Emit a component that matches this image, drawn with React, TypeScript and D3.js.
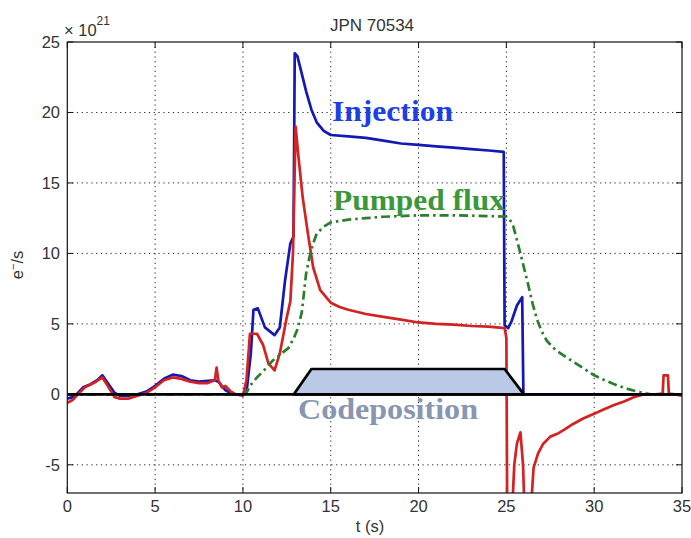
import React from "react";
import * as d3 from "d3";

const W = 691;
const H = 538;

const title = "JPN 70534";
const xLabel = "t (s)";
const xTicks = [0, 5, 10, 15, 20, 25, 30, 35];
const yTicks = [-5, 0, 5, 10, 15, 20, 25];

// Injection (blue)
const injT = [0, 0.3, 0.6, 0.9, 1.3, 1.7, 2.0, 2.3, 2.7, 3.0, 3.5, 4.0, 4.5, 5.0, 5.5, 6.0, 6.5, 7.0, 7.5, 8.0, 8.4, 8.6, 9.0, 9.4, 10.0, 10.2, 10.45, 10.6, 10.85, 11.25, 11.8, 12.1, 12.4, 12.7, 12.88, 12.95, 13.1, 13.3, 13.6, 13.9, 14.2, 14.6, 15.0, 16.0, 17.0, 18.0, 19.0, 20.0, 21.0, 22.0, 23.0, 24.0, 24.85, 24.9, 25.1, 25.3, 25.6, 25.9, 25.97, 26.0, 35];
const injV = [-0.3, -0.2, 0.1, 0.5, 0.7, 1.0, 1.35, 0.8, 0.1, -0.1, -0.1, 0.0, 0.2, 0.6, 1.1, 1.4, 1.3, 1.0, 0.9, 0.95, 1.0, 0.9, 0.3, 0.0, 0.0, 0.1, 2.9, 6.0, 6.1, 4.75, 4.2, 4.75, 8.1, 10.7, 11.2, 24.2, 24.0, 23.0, 21.5, 20.2, 19.3, 18.7, 18.4, 18.3, 18.2, 18.0, 17.8, 17.7, 17.6, 17.5, 17.4, 17.3, 17.2, 4.9, 4.7, 5.2, 6.3, 6.9, 0.0, 0.0, 0.0];

// Net / retained flux (red)
const netT = [0, 0.3, 0.6, 1.0, 1.5, 2.0, 2.3, 2.7, 3.0, 3.5, 4.0, 4.5, 5.0, 5.5, 6.0, 6.5, 7.0, 7.5, 8.0, 8.4, 8.5, 8.6, 8.8, 9.0, 9.3, 9.6, 10.0, 10.2, 10.4, 10.8, 11.15, 11.45, 11.8, 12.1, 12.5, 12.7, 12.85, 13.0, 13.15, 13.4, 13.7, 14.0, 14.4, 15.0, 15.5, 16.0, 17.0, 18.0, 19.0, 20.0, 21.0, 22.0, 23.0, 24.0, 24.9, 25.0, 25.05, 25.3, 25.45, 25.6, 25.8, 25.95, 26.05, 26.35, 26.55, 26.8, 27.1, 27.5, 27.9, 28.3, 28.8, 29.4, 30.0, 30.5, 31.1, 31.7, 32.25, 32.8, 33.5, 33.9, 33.95, 34.2, 34.25, 34.6, 35.0];
const netV = [-0.6, -0.4, 0.0, 0.5, 0.8, 1.2, 0.6, -0.2, -0.3, -0.3, -0.1, 0.1, 0.5, 1.0, 1.2, 1.1, 0.9, 0.8, 0.8, 1.0, 1.9, 1.0, 0.5, 0.6, 0.2, 0.0, -0.1, 1.0, 4.3, 4.3, 3.5, 2.2, 1.7, 2.9, 5.5, 6.6, 10.0, 19.0, 17.0, 14.0, 11.4, 9.0, 7.4, 6.5, 6.2, 6.0, 5.7, 5.5, 5.3, 5.1, 5.0, 4.95, 4.85, 4.8, 4.7, 4.0, -9, -9, -5, -3.5, -2.7, -5, -9, -9, -5.2, -4.2, -3.5, -3.0, -2.8, -2.5, -2.1, -1.7, -1.37, -1.1, -0.78, -0.5, -0.2, 0.0, 0.0, 0.05, 1.35, 1.35, 0.05, 0.0, -0.1];

// Pumped flux (green dash-dot)
const pumpT = [0, 10.0, 10.2, 10.4, 10.8, 11.2, 11.7, 12.2, 12.6, 12.9, 13.1, 13.35, 13.6, 13.8, 14.0, 14.2, 14.6, 15.0, 16.0, 17.0, 18.0, 20.0, 22.0, 24.0, 25.0, 25.2, 25.4, 25.8, 26.2, 26.5, 26.75, 27.0, 27.3, 27.8, 28.45, 29.2, 30.0, 30.6, 31.3, 32.0, 32.6, 33.2, 35];
const pumpV = [0, 0, 0.1, 0.6, 1.2, 1.7, 2.4, 2.9, 3.3, 4.0, 4.6, 5.8, 8.6, 9.8, 10.7, 11.4, 11.9, 12.2, 12.4, 12.5, 12.6, 12.7, 12.7, 12.65, 12.6, 12.4, 11.9, 10.0, 8.0, 6.4, 5.3, 4.5, 3.8, 3.15, 2.6, 2.0, 1.35, 1.0, 0.64, 0.35, 0.16, 0.0, 0.0];

// Codeposition trapezoid
const codepT = [12.9, 13.9, 24.9, 26.0];
const codepV = [0, 1.8, 1.8, 0];

const zeroLineT = [0, 35];
const zeroLineV = [0, 0];

export default function App() {
  const x = d3.scaleLinear().domain([0, 35]).range([67.3, 682]);
  const y = d3.scaleLinear().domain([-7, 25]).range([493, 42]);
  const [x0, x1] = x.range();
  const [yb, yt] = y.range();

  const path = (ts: number[], vs: number[]) =>
    d3.line<[number, number]>().x((d) => x(d[0])).y((d) => y(d[1]))(
      ts.map((t, i) => [t, vs[i]] as [number, number])
    ) as string;

  const trap = path(codepT, codepV) + "Z";

  const tickFont = "'Liberation Sans', Arial, Helvetica, sans-serif";
  const serif = "'Liberation Serif', 'Times New Roman', serif";
  const fs = 16.5;
  const txtCol = "#333";

  return (
    <svg
      width={W}
      height={H}
      style={{ position: "absolute", left: 0, top: 0, background: "#fff" }}
    >
      <defs>
        <clipPath id="plotclip">
          <rect x={x0} y={yt} width={x1 - x0} height={yb - yt} />
        </clipPath>
      </defs>
      <rect x={0} y={0} width={W} height={H} fill="#fff" />

      {/* grid */}
      <g stroke="#222" strokeWidth={1} strokeDasharray="1.2,3.6">
        {xTicks.slice(1, -1).map((t) => (
          <line key={"gx" + t} x1={x(t)} x2={x(t)} y1={yt} y2={yb} />
        ))}
        {yTicks.slice(0, -1).map((v) => (
          <line key={"gy" + v} x1={x0} x2={x1} y1={y(v)} y2={y(v)} />
        ))}
      </g>

      {/* ticks */}
      <g stroke="#111" strokeWidth={1}>
        {xTicks.map((t) => (
          <g key={"tx" + t}>
            <line x1={x(t)} x2={x(t)} y1={yb} y2={yb - 6} />
            <line x1={x(t)} x2={x(t)} y1={yt} y2={yt + 6} />
          </g>
        ))}
        {yTicks.map((v) => (
          <g key={"ty" + v}>
            <line x1={x0} x2={x0 + 6} y1={y(v)} y2={y(v)} />
            <line x1={x1} x2={x1 - 6} y1={y(v)} y2={y(v)} />
          </g>
        ))}
      </g>

      {/* data */}
      <g clipPath="url(#plotclip)" fill="none" strokeLinejoin="round">
        <path d={path(injT, injV)} stroke="#1418b4" strokeWidth={2.7} />
        <path d={path(netT, netV)} stroke="#d42222" strokeWidth={2.7} />
        <path
          d={path(pumpT, pumpV)}
          stroke="#2c7d2c"
          strokeWidth={2.7}
          strokeDasharray="9,4,2.5,4"
        />
        <path d={path(zeroLineT, zeroLineV)} stroke="#000" strokeWidth={2.7} />
        <path d={trap} fill="#b9c9e6" stroke="#000" strokeWidth={2.7} />
      </g>

      {/* frame */}
      <rect
        x={x0}
        y={yt}
        width={x1 - x0}
        height={yb - yt}
        fill="none"
        stroke="#111"
        strokeWidth={1.2}
      />

      {/* tick labels */}
      <g fontFamily={tickFont} fontSize={fs} fill={txtCol}>
        {xTicks.map((t) => (
          <text key={"lx" + t} x={x(t)} y={512} textAnchor="middle">
            {t}
          </text>
        ))}
        {yTicks.map((v) => (
          <text key={"ly" + v} x={60} y={y(v) + 6} textAnchor="end">
            {v < 0 ? "-" + Math.abs(v) : v}
          </text>
        ))}
      </g>

      {/* exponent */}
      <text x={64} y={36} fontFamily={tickFont} fontSize={fs} fill={txtCol}>
        × 10
        <tspan dy={-11} fontSize={12}>
          21
        </tspan>
      </text>

      {/* title & axis labels */}
      <text
        x={372}
        y={31}
        textAnchor="middle"
        fontFamily={tickFont}
        fontSize={17}
        fill={txtCol}
      >
        {title}
      </text>
      <text
        x={370}
        y={532}
        textAnchor="middle"
        fontFamily={tickFont}
        fontSize={fs}
        fill={txtCol}
      >
        {xLabel}
      </text>
      <text
        transform="translate(23,265) rotate(-90)"
        textAnchor="middle"
        fontFamily={tickFont}
        fontSize={fs}
        fill={txtCol}
      >
        e
        <tspan dy={-6} fontSize={11}>
          −
        </tspan>
        <tspan dy={6}>/s</tspan>
      </text>

      {/* annotations */}
      <text
        x={332}
        y={121}
        fontFamily={serif}
        fontWeight="bold"
        fontSize={30}
        fill="#1c3fe6"
        textLength={121}
        lengthAdjust="spacingAndGlyphs"
      >
        Injection
      </text>
      <text
        x={333}
        y={210}
        fontFamily={serif}
        fontWeight="bold"
        fontSize={30}
        fill="#3b973b"
        textLength={172}
        lengthAdjust="spacingAndGlyphs"
      >
        Pumped flux
      </text>
      <text
        x={298}
        y={419}
        fontFamily={serif}
        fontWeight="bold"
        fontSize={30}
        fill="#8796b1"
        textLength={180}
        lengthAdjust="spacingAndGlyphs"
      >
        Codeposition
      </text>
    </svg>
  );
}
